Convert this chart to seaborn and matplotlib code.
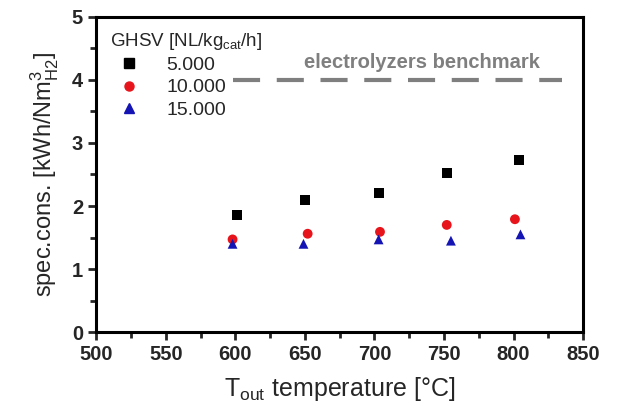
import pandas as pd
import seaborn as sns
import matplotlib.pyplot as plt
from matplotlib.ticker import MultipleLocator
from matplotlib.lines import Line2D

#%% data
ghsv = ['5.000', '10.000', '15.000']
t_5000 = [601, 650, 703, 752, 804]
c_5000 = [1.86, 2.09, 2.21, 2.52, 2.73]
t_10000 = [598, 652, 704, 752, 801]
c_10000 = [1.47, 1.56, 1.59, 1.70, 1.79]
t_15000 = [598, 649, 703, 755, 805]
c_15000 = [1.40, 1.40, 1.47, 1.45, 1.55]
bench_x = [598, 835]
bench_y = [4.0, 4.0]

#%% plot setup
sns.set_style("white")
plt.rcParams['font.family'] = ['Liberation Sans', 'DejaVu Sans']
plt.rcParams['mathtext.fontset'] = 'custom'
plt.rcParams['mathtext.rm'] = 'Liberation Sans'

df = pd.DataFrame({
    'T': t_5000 + t_10000 + t_15000,
    'cons': c_5000 + c_10000 + c_15000,
    'GHSV': [ghsv[0]] * 5 + [ghsv[1]] * 5 + [ghsv[2]] * 5,
})
palette = {'5.000': 'black', '10.000': '#e8141c', '15.000': '#1414b4'}
markers = {'5.000': 's', '10.000': 'o', '15.000': '^'}

fig = plt.figure(figsize=(6.17, 4.12), dpi=100)
ax = fig.add_axes([0.156, 0.194, 0.789, 0.765])
sns.scatterplot(data=df, x='T', y='cons', hue='GHSV', style='GHSV', palette=palette,
                markers=markers, s=50, edgecolor='none', ax=ax, legend=False)
sns.lineplot(x=bench_x, y=bench_y, color='#7f7f7f', linewidth=3, dashes=(6.5, 4), ax=ax)
ax.text(734, 4.12, 'electrolyzers benchmark', color='#7f7f7f', fontsize=14.5,
        fontweight='bold', ha='center', va='bottom')

ax.set_xlim(500, 850)
ax.set_ylim(0, 5)
ax.xaxis.set_major_locator(MultipleLocator(50))
ax.xaxis.set_minor_locator(MultipleLocator(25))
ax.yaxis.set_major_locator(MultipleLocator(1))
ax.yaxis.set_minor_locator(MultipleLocator(0.5))
ax.tick_params(which='major', direction='out', length=6, width=2, labelsize=14.5,
               bottom=True, left=True)
ax.tick_params(which='minor', direction='out', length=4, width=2, bottom=True, left=True)
for lab in ax.get_xticklabels() + ax.get_yticklabels():
    lab.set_fontweight('bold')
for sp in ax.spines.values():
    sp.set_linewidth(2.2)
    sp.set_color('black')

ax.set_xlabel(r'T$_{\mathrm{out}}$ temperature [°C]', fontsize=18, labelpad=8)
ax.set_ylabel(r'spec.cons. [kWh/Nm$^{3}_{\mathrm{H2}}$]', fontsize=17, labelpad=8)

# legend
handles = [Line2D([], [], linestyle='none', marker=markers[g], color=palette[g], markersize=6.5)
           for g in ghsv]
leg = ax.legend(handles, ghsv, title=r'GHSV [NL/kg$_{\mathrm{cat}}$/h]', loc='upper left',
                frameon=False, fontsize=14, title_fontsize=13.5, handletextpad=0.9,
                labelspacing=0.25, borderaxespad=0.3)
leg._legend_box.align = 'left'

plt.savefig('out.png', dpi=100)
